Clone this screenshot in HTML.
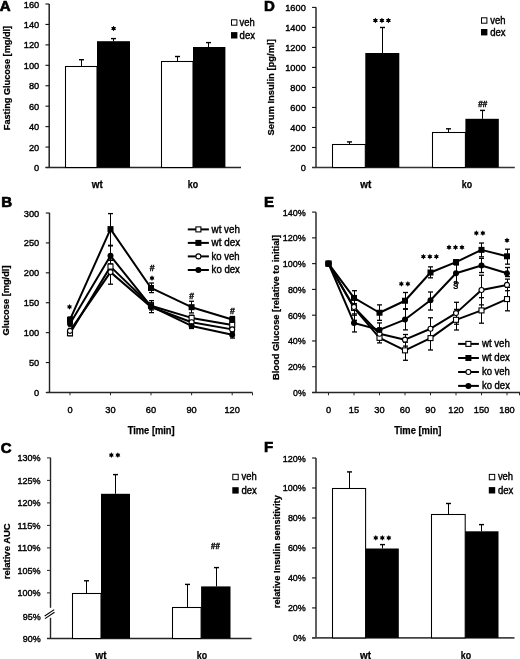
<!DOCTYPE html>
<html><head><meta charset="utf-8"><style>
html,body{margin:0;padding:0;background:#fff;}
svg{display:block;will-change:transform;}
text{font-family:"Liberation Sans", sans-serif;fill:#000;}
</style></head><body>
<svg width="520" height="659" viewBox="0 0 520 659" shape-rendering="auto">
<rect x="0" y="0" width="520" height="659" fill="#fff"/>
<text x="-0.20" y="11.10" font-size="15" text-anchor="start" font-weight="bold" stroke="#000" stroke-width="0.7">A</text>
<line x1="49.20" y1="4.00" x2="49.20" y2="167.50" stroke="#222" stroke-width="1.5" />
<line x1="45.45" y1="167.50" x2="49.20" y2="167.50" stroke="#111" stroke-width="1.1" />
<text x="39.20" y="171.00" font-size="9.6" text-anchor="end" font-weight="normal" textLength="5.15" lengthAdjust="spacingAndGlyphs" stroke="#000" stroke-width="0.4">0</text>
<line x1="45.45" y1="147.06" x2="49.20" y2="147.06" stroke="#111" stroke-width="1.1" />
<text x="39.20" y="150.56" font-size="9.6" text-anchor="end" font-weight="normal" textLength="10.30" lengthAdjust="spacingAndGlyphs" stroke="#000" stroke-width="0.4">20</text>
<line x1="45.45" y1="126.62" x2="49.20" y2="126.62" stroke="#111" stroke-width="1.1" />
<text x="39.20" y="130.12" font-size="9.6" text-anchor="end" font-weight="normal" textLength="10.30" lengthAdjust="spacingAndGlyphs" stroke="#000" stroke-width="0.4">40</text>
<line x1="45.45" y1="106.19" x2="49.20" y2="106.19" stroke="#111" stroke-width="1.1" />
<text x="39.20" y="109.69" font-size="9.6" text-anchor="end" font-weight="normal" textLength="10.30" lengthAdjust="spacingAndGlyphs" stroke="#000" stroke-width="0.4">60</text>
<line x1="45.45" y1="85.75" x2="49.20" y2="85.75" stroke="#111" stroke-width="1.1" />
<text x="39.20" y="89.25" font-size="9.6" text-anchor="end" font-weight="normal" textLength="10.30" lengthAdjust="spacingAndGlyphs" stroke="#000" stroke-width="0.4">80</text>
<line x1="45.45" y1="65.31" x2="49.20" y2="65.31" stroke="#111" stroke-width="1.1" />
<text x="39.20" y="68.81" font-size="9.6" text-anchor="end" font-weight="normal" textLength="15.45" lengthAdjust="spacingAndGlyphs" stroke="#000" stroke-width="0.4">100</text>
<line x1="45.45" y1="44.87" x2="49.20" y2="44.87" stroke="#111" stroke-width="1.1" />
<text x="39.20" y="48.37" font-size="9.6" text-anchor="end" font-weight="normal" textLength="15.45" lengthAdjust="spacingAndGlyphs" stroke="#000" stroke-width="0.4">120</text>
<line x1="45.45" y1="24.44" x2="49.20" y2="24.44" stroke="#111" stroke-width="1.1" />
<text x="39.20" y="27.94" font-size="9.6" text-anchor="end" font-weight="normal" textLength="15.45" lengthAdjust="spacingAndGlyphs" stroke="#000" stroke-width="0.4">140</text>
<line x1="45.45" y1="4.00" x2="49.20" y2="4.00" stroke="#111" stroke-width="1.1" />
<text x="39.20" y="7.50" font-size="9.6" text-anchor="end" font-weight="normal" textLength="15.45" lengthAdjust="spacingAndGlyphs" stroke="#000" stroke-width="0.4">160</text>
<line x1="45.60" y1="167.50" x2="241.00" y2="167.50" stroke="#262626" stroke-width="1.3" />
<rect x="65.50" y="66.50" width="31.50" height="101.00" fill="#fff" stroke="#000" stroke-width="1.05"/>
<rect x="97.00" y="41.20" width="33.00" height="126.30" fill="#000" stroke="none" stroke-width="1"/>
<rect x="161.50" y="61.50" width="31.50" height="106.00" fill="#fff" stroke="#000" stroke-width="1.05"/>
<rect x="193.00" y="47.00" width="32.40" height="120.50" fill="#000" stroke="none" stroke-width="1"/>
<line x1="81.50" y1="66.20" x2="81.50" y2="59.70" stroke="#000" stroke-width="1" />
<line x1="79.00" y1="59.70" x2="84.00" y2="59.70" stroke="#000" stroke-width="1.4" />
<line x1="113.50" y1="41.20" x2="113.50" y2="38.60" stroke="#000" stroke-width="1" />
<line x1="111.00" y1="38.60" x2="116.00" y2="38.60" stroke="#000" stroke-width="1.4" />
<line x1="177.50" y1="61.00" x2="177.50" y2="56.50" stroke="#000" stroke-width="1" />
<line x1="175.00" y1="56.50" x2="180.00" y2="56.50" stroke="#000" stroke-width="1.4" />
<line x1="208.50" y1="47.00" x2="208.50" y2="42.60" stroke="#000" stroke-width="1" />
<line x1="206.00" y1="42.60" x2="211.00" y2="42.60" stroke="#000" stroke-width="1.4" />
<polygon points="113.60,25.65 112.80,27.11 111.13,27.07 112.00,28.50 111.13,29.93 112.80,29.89 113.60,31.35 114.40,29.89 116.07,29.93 115.20,28.50 116.07,27.07 114.40,27.11" fill="#000"/>
<text x="97.30" y="188.00" font-size="10" text-anchor="middle" font-weight="bold" textLength="11.00" lengthAdjust="spacingAndGlyphs" stroke="#000" stroke-width="0.25">wt</text>
<text x="193.00" y="188.00" font-size="10" text-anchor="middle" font-weight="bold" textLength="10.30" lengthAdjust="spacingAndGlyphs" stroke="#000" stroke-width="0.25">ko</text>
<rect x="231.50" y="19.80" width="5.40" height="5.40" fill="#fff" stroke="#000" stroke-width="1"/>
<text x="239.60" y="25.60" font-size="10" text-anchor="start" font-weight="normal" textLength="15.20" lengthAdjust="spacingAndGlyphs" stroke="#000" stroke-width="0.4">veh</text>
<rect x="231.00" y="32.10" width="6.40" height="6.40" fill="#000" stroke="none" stroke-width="1"/>
<text x="239.60" y="38.70" font-size="10" text-anchor="start" font-weight="normal" textLength="15.40" lengthAdjust="spacingAndGlyphs" stroke="#000" stroke-width="0.4">dex</text>
<text transform="translate(9.50,78.05) rotate(-90)" x="0" y="0" font-size="9.3" text-anchor="middle" font-weight="bold" textLength="104.30" lengthAdjust="spacingAndGlyphs" stroke="#000" stroke-width="0.25">Fasting Glucose [mg/dl]</text>
<text x="264.00" y="11.40" font-size="15" text-anchor="start" font-weight="bold" stroke="#000" stroke-width="0.7">D</text>
<line x1="316.00" y1="7.20" x2="316.00" y2="167.50" stroke="#5a5a5a" stroke-width="1.9" />
<line x1="312.05" y1="167.50" x2="316.00" y2="167.50" stroke="#111" stroke-width="1.1" />
<text x="305.80" y="171.00" font-size="9.6" text-anchor="end" font-weight="normal" textLength="5.15" lengthAdjust="spacingAndGlyphs" stroke="#000" stroke-width="0.4">0</text>
<line x1="312.05" y1="147.49" x2="316.00" y2="147.49" stroke="#111" stroke-width="1.1" />
<text x="305.80" y="150.99" font-size="9.6" text-anchor="end" font-weight="normal" textLength="15.45" lengthAdjust="spacingAndGlyphs" stroke="#000" stroke-width="0.4">200</text>
<line x1="312.05" y1="127.47" x2="316.00" y2="127.47" stroke="#111" stroke-width="1.1" />
<text x="305.80" y="130.97" font-size="9.6" text-anchor="end" font-weight="normal" textLength="15.45" lengthAdjust="spacingAndGlyphs" stroke="#000" stroke-width="0.4">400</text>
<line x1="312.05" y1="107.46" x2="316.00" y2="107.46" stroke="#111" stroke-width="1.1" />
<text x="305.80" y="110.96" font-size="9.6" text-anchor="end" font-weight="normal" textLength="15.45" lengthAdjust="spacingAndGlyphs" stroke="#000" stroke-width="0.4">600</text>
<line x1="312.05" y1="87.45" x2="316.00" y2="87.45" stroke="#111" stroke-width="1.1" />
<text x="305.80" y="90.95" font-size="9.6" text-anchor="end" font-weight="normal" textLength="15.45" lengthAdjust="spacingAndGlyphs" stroke="#000" stroke-width="0.4">800</text>
<line x1="312.05" y1="67.44" x2="316.00" y2="67.44" stroke="#111" stroke-width="1.1" />
<text x="305.80" y="70.94" font-size="9.6" text-anchor="end" font-weight="normal" textLength="20.60" lengthAdjust="spacingAndGlyphs" stroke="#000" stroke-width="0.4">1000</text>
<line x1="312.05" y1="47.42" x2="316.00" y2="47.42" stroke="#111" stroke-width="1.1" />
<text x="305.80" y="50.92" font-size="9.6" text-anchor="end" font-weight="normal" textLength="20.60" lengthAdjust="spacingAndGlyphs" stroke="#000" stroke-width="0.4">1200</text>
<line x1="312.05" y1="27.41" x2="316.00" y2="27.41" stroke="#111" stroke-width="1.1" />
<text x="305.80" y="30.91" font-size="9.6" text-anchor="end" font-weight="normal" textLength="20.60" lengthAdjust="spacingAndGlyphs" stroke="#000" stroke-width="0.4">1400</text>
<line x1="312.05" y1="7.40" x2="316.00" y2="7.40" stroke="#111" stroke-width="1.1" />
<text x="305.80" y="10.90" font-size="9.6" text-anchor="end" font-weight="normal" textLength="20.60" lengthAdjust="spacingAndGlyphs" stroke="#000" stroke-width="0.4">1600</text>
<line x1="312.30" y1="167.50" x2="514.80" y2="167.50" stroke="#333" stroke-width="1.3" />
<rect x="332.50" y="144.50" width="32.80" height="23.00" fill="#fff" stroke="#000" stroke-width="1.05"/>
<rect x="365.30" y="53.00" width="34.00" height="114.50" fill="#000" stroke="none" stroke-width="1"/>
<rect x="432.50" y="132.50" width="32.90" height="35.00" fill="#fff" stroke="#000" stroke-width="1.05"/>
<rect x="465.40" y="118.80" width="33.40" height="48.70" fill="#000" stroke="none" stroke-width="1"/>
<line x1="349.50" y1="144.30" x2="349.50" y2="141.90" stroke="#000" stroke-width="1" />
<line x1="347.00" y1="141.90" x2="352.00" y2="141.90" stroke="#000" stroke-width="1.4" />
<line x1="382.50" y1="53.00" x2="382.50" y2="27.50" stroke="#000" stroke-width="1" />
<line x1="380.00" y1="27.50" x2="385.00" y2="27.50" stroke="#000" stroke-width="1.4" />
<line x1="448.50" y1="132.70" x2="448.50" y2="128.80" stroke="#000" stroke-width="1" />
<line x1="446.00" y1="128.80" x2="451.00" y2="128.80" stroke="#000" stroke-width="1.4" />
<line x1="482.50" y1="118.80" x2="482.50" y2="110.40" stroke="#000" stroke-width="1" />
<line x1="480.00" y1="110.40" x2="485.00" y2="110.40" stroke="#000" stroke-width="1.4" />
<polygon points="375.40,17.65 374.60,19.11 372.93,19.07 373.80,20.50 372.93,21.93 374.60,21.89 375.40,23.35 376.20,21.89 377.87,21.93 377.00,20.50 377.87,19.07 376.20,19.11" fill="#000"/>
<polygon points="381.90,17.65 381.10,19.11 379.43,19.07 380.30,20.50 379.43,21.93 381.10,21.89 381.90,23.35 382.70,21.89 384.37,21.93 383.50,20.50 384.37,19.07 382.70,19.11" fill="#000"/>
<polygon points="388.40,17.65 387.60,19.11 385.93,19.07 386.80,20.50 385.93,21.93 387.60,21.89 388.40,23.35 389.20,21.89 390.87,21.93 390.00,20.50 390.87,19.07 389.20,19.11" fill="#000"/>
<text x="482.80" y="107.10" font-size="9" text-anchor="middle" font-weight="bold" textLength="9.00" lengthAdjust="spacingAndGlyphs" stroke="#000" stroke-width="0.4">##</text>
<text x="365.80" y="188.00" font-size="10" text-anchor="middle" font-weight="bold" textLength="11.00" lengthAdjust="spacingAndGlyphs" stroke="#000" stroke-width="0.25">wt</text>
<text x="466.90" y="188.00" font-size="10" text-anchor="middle" font-weight="bold" textLength="10.30" lengthAdjust="spacingAndGlyphs" stroke="#000" stroke-width="0.25">ko</text>
<rect x="481.50" y="17.80" width="5.40" height="5.40" fill="#fff" stroke="#000" stroke-width="1"/>
<text x="490.20" y="23.60" font-size="10" text-anchor="start" font-weight="normal" textLength="15.20" lengthAdjust="spacingAndGlyphs" stroke="#000" stroke-width="0.4">veh</text>
<rect x="481.00" y="29.00" width="6.40" height="6.40" fill="#000" stroke="none" stroke-width="1"/>
<text x="490.20" y="35.60" font-size="10" text-anchor="start" font-weight="normal" textLength="15.40" lengthAdjust="spacingAndGlyphs" stroke="#000" stroke-width="0.4">dex</text>
<text transform="translate(273.60,87.35) rotate(-90)" x="0" y="0" font-size="9.3" text-anchor="middle" font-weight="bold" textLength="96.30" lengthAdjust="spacingAndGlyphs" stroke="#000" stroke-width="0.25">Serum Insulin [pg/ml]</text>
<text x="0.80" y="453.10" font-size="15" text-anchor="start" font-weight="bold" stroke="#000" stroke-width="0.7">C</text>
<line x1="50.50" y1="457.70" x2="50.50" y2="607.80" stroke="#262626" stroke-width="1.4" />
<line x1="50.50" y1="617.80" x2="50.50" y2="638.50" stroke="#262626" stroke-width="1.4" />
<line x1="47.00" y1="457.90" x2="50.50" y2="457.90" stroke="#262626" stroke-width="1" />
<text x="40.60" y="461.40" font-size="9.6" text-anchor="end" font-weight="normal" textLength="23.10" lengthAdjust="spacingAndGlyphs" stroke="#000" stroke-width="0.4">130%</text>
<line x1="47.00" y1="480.40" x2="50.50" y2="480.40" stroke="#262626" stroke-width="1" />
<text x="40.60" y="483.90" font-size="9.6" text-anchor="end" font-weight="normal" textLength="23.10" lengthAdjust="spacingAndGlyphs" stroke="#000" stroke-width="0.4">125%</text>
<line x1="47.00" y1="502.90" x2="50.50" y2="502.90" stroke="#262626" stroke-width="1" />
<text x="40.60" y="506.40" font-size="9.6" text-anchor="end" font-weight="normal" textLength="23.10" lengthAdjust="spacingAndGlyphs" stroke="#000" stroke-width="0.4">120%</text>
<line x1="47.00" y1="525.40" x2="50.50" y2="525.40" stroke="#262626" stroke-width="1" />
<text x="40.60" y="528.90" font-size="9.6" text-anchor="end" font-weight="normal" textLength="23.10" lengthAdjust="spacingAndGlyphs" stroke="#000" stroke-width="0.4">115%</text>
<line x1="47.00" y1="547.90" x2="50.50" y2="547.90" stroke="#262626" stroke-width="1" />
<text x="40.60" y="551.40" font-size="9.6" text-anchor="end" font-weight="normal" textLength="23.10" lengthAdjust="spacingAndGlyphs" stroke="#000" stroke-width="0.4">110%</text>
<line x1="47.00" y1="570.40" x2="50.50" y2="570.40" stroke="#262626" stroke-width="1" />
<text x="40.60" y="573.90" font-size="9.6" text-anchor="end" font-weight="normal" textLength="23.10" lengthAdjust="spacingAndGlyphs" stroke="#000" stroke-width="0.4">105%</text>
<line x1="47.00" y1="592.90" x2="50.50" y2="592.90" stroke="#262626" stroke-width="1" />
<text x="40.60" y="596.40" font-size="9.6" text-anchor="end" font-weight="normal" textLength="23.10" lengthAdjust="spacingAndGlyphs" stroke="#000" stroke-width="0.4">100%</text>
<text x="40.60" y="619.50" font-size="9.6" text-anchor="end" font-weight="normal" textLength="17.90" lengthAdjust="spacingAndGlyphs" stroke="#000" stroke-width="0.4">95%</text>
<text x="40.60" y="642.00" font-size="9.6" text-anchor="end" font-weight="normal" textLength="17.90" lengthAdjust="spacingAndGlyphs" stroke="#000" stroke-width="0.4">90%</text>
<line x1="44.70" y1="616.00" x2="54.20" y2="609.60" stroke="#000" stroke-width="1.1" />
<line x1="45.00" y1="618.60" x2="54.50" y2="612.20" stroke="#000" stroke-width="1.1" />
<line x1="47.00" y1="638.50" x2="251.60" y2="638.50" stroke="#262626" stroke-width="1.3" />
<rect x="72.50" y="593.50" width="28.50" height="45.00" fill="#fff" stroke="#000" stroke-width="1.05"/>
<rect x="101.00" y="493.80" width="29.00" height="144.70" fill="#000" stroke="none" stroke-width="1"/>
<rect x="172.50" y="607.50" width="28.60" height="31.00" fill="#fff" stroke="#000" stroke-width="1.05"/>
<rect x="201.10" y="586.40" width="29.40" height="52.10" fill="#000" stroke="none" stroke-width="1"/>
<line x1="86.50" y1="593.40" x2="86.50" y2="580.80" stroke="#000" stroke-width="1" />
<line x1="84.00" y1="580.80" x2="89.00" y2="580.80" stroke="#000" stroke-width="1.4" />
<line x1="115.50" y1="493.80" x2="115.50" y2="474.60" stroke="#000" stroke-width="1" />
<line x1="113.00" y1="474.60" x2="118.00" y2="474.60" stroke="#000" stroke-width="1.4" />
<line x1="187.50" y1="607.70" x2="187.50" y2="584.40" stroke="#000" stroke-width="1" />
<line x1="185.00" y1="584.40" x2="190.00" y2="584.40" stroke="#000" stroke-width="1.4" />
<line x1="216.50" y1="586.40" x2="216.50" y2="567.60" stroke="#000" stroke-width="1" />
<line x1="214.00" y1="567.60" x2="219.00" y2="567.60" stroke="#000" stroke-width="1.4" />
<polygon points="111.35,452.25 110.55,453.71 108.88,453.68 109.75,455.10 108.88,456.53 110.55,456.49 111.35,457.95 112.15,456.49 113.82,456.53 112.95,455.10 113.82,453.68 112.15,453.71" fill="#000"/>
<polygon points="117.85,452.25 117.05,453.71 115.38,453.68 116.25,455.10 115.38,456.53 117.05,456.49 117.85,457.95 118.65,456.49 120.32,456.53 119.45,455.10 120.32,453.68 118.65,453.71" fill="#000"/>
<text x="215.50" y="548.70" font-size="9" text-anchor="middle" font-weight="bold" textLength="8.80" lengthAdjust="spacingAndGlyphs" stroke="#000" stroke-width="0.4">##</text>
<text x="101.00" y="658.50" font-size="10" text-anchor="middle" font-weight="bold" textLength="11.00" lengthAdjust="spacingAndGlyphs" stroke="#000" stroke-width="0.25">wt</text>
<text x="202.00" y="658.50" font-size="10" text-anchor="middle" font-weight="bold" textLength="10.30" lengthAdjust="spacingAndGlyphs" stroke="#000" stroke-width="0.25">ko</text>
<rect x="232.80" y="474.30" width="5.40" height="5.40" fill="#fff" stroke="#000" stroke-width="1"/>
<text x="241.50" y="480.20" font-size="10" text-anchor="start" font-weight="normal" textLength="15.20" lengthAdjust="spacingAndGlyphs" stroke="#000" stroke-width="0.4">veh</text>
<rect x="232.30" y="487.20" width="6.40" height="6.40" fill="#000" stroke="none" stroke-width="1"/>
<text x="241.50" y="493.80" font-size="10" text-anchor="start" font-weight="normal" textLength="15.40" lengthAdjust="spacingAndGlyphs" stroke="#000" stroke-width="0.4">dex</text>
<text transform="translate(9.60,551.30) rotate(-90)" x="0" y="0" font-size="9.3" text-anchor="middle" font-weight="bold" textLength="55.90" lengthAdjust="spacingAndGlyphs" stroke="#000" stroke-width="0.25">relative AUC</text>
<text x="264.00" y="452.20" font-size="15" text-anchor="start" font-weight="bold" stroke="#000" stroke-width="0.7">F</text>
<line x1="316.00" y1="457.90" x2="316.00" y2="637.90" stroke="#5a5a5a" stroke-width="1.9" />
<line x1="312.05" y1="637.90" x2="316.00" y2="637.90" stroke="#111" stroke-width="1.1" />
<text x="305.80" y="641.40" font-size="9.6" text-anchor="end" font-weight="normal" textLength="12.75" lengthAdjust="spacingAndGlyphs" stroke="#000" stroke-width="0.4">0%</text>
<line x1="312.05" y1="607.92" x2="316.00" y2="607.92" stroke="#111" stroke-width="1.1" />
<text x="305.80" y="611.42" font-size="9.6" text-anchor="end" font-weight="normal" textLength="17.90" lengthAdjust="spacingAndGlyphs" stroke="#000" stroke-width="0.4">20%</text>
<line x1="312.05" y1="577.93" x2="316.00" y2="577.93" stroke="#111" stroke-width="1.1" />
<text x="305.80" y="581.43" font-size="9.6" text-anchor="end" font-weight="normal" textLength="17.90" lengthAdjust="spacingAndGlyphs" stroke="#000" stroke-width="0.4">40%</text>
<line x1="312.05" y1="547.95" x2="316.00" y2="547.95" stroke="#111" stroke-width="1.1" />
<text x="305.80" y="551.45" font-size="9.6" text-anchor="end" font-weight="normal" textLength="17.90" lengthAdjust="spacingAndGlyphs" stroke="#000" stroke-width="0.4">60%</text>
<line x1="312.05" y1="517.97" x2="316.00" y2="517.97" stroke="#111" stroke-width="1.1" />
<text x="305.80" y="521.47" font-size="9.6" text-anchor="end" font-weight="normal" textLength="17.90" lengthAdjust="spacingAndGlyphs" stroke="#000" stroke-width="0.4">80%</text>
<line x1="312.05" y1="487.98" x2="316.00" y2="487.98" stroke="#111" stroke-width="1.1" />
<text x="305.80" y="491.48" font-size="9.6" text-anchor="end" font-weight="normal" textLength="23.05" lengthAdjust="spacingAndGlyphs" stroke="#000" stroke-width="0.4">100%</text>
<line x1="312.05" y1="458.00" x2="316.00" y2="458.00" stroke="#111" stroke-width="1.1" />
<text x="305.80" y="461.50" font-size="9.6" text-anchor="end" font-weight="normal" textLength="23.05" lengthAdjust="spacingAndGlyphs" stroke="#000" stroke-width="0.4">120%</text>
<line x1="312.20" y1="637.90" x2="514.50" y2="637.90" stroke="#444" stroke-width="1.9" />
<rect x="332.50" y="488.50" width="33.10" height="149.40" fill="#fff" stroke="#000" stroke-width="1.05"/>
<rect x="365.60" y="548.50" width="33.20" height="89.40" fill="#000" stroke="none" stroke-width="1"/>
<rect x="431.50" y="514.50" width="33.70" height="123.40" fill="#fff" stroke="#000" stroke-width="1.05"/>
<rect x="465.20" y="531.30" width="33.30" height="106.60" fill="#000" stroke="none" stroke-width="1"/>
<line x1="349.50" y1="488.30" x2="349.50" y2="471.90" stroke="#000" stroke-width="1" />
<line x1="347.00" y1="471.90" x2="352.00" y2="471.90" stroke="#000" stroke-width="1.4" />
<line x1="382.50" y1="548.50" x2="382.50" y2="544.60" stroke="#000" stroke-width="1" />
<line x1="380.00" y1="544.60" x2="385.00" y2="544.60" stroke="#000" stroke-width="1.4" />
<line x1="448.50" y1="514.00" x2="448.50" y2="503.50" stroke="#000" stroke-width="1" />
<line x1="446.00" y1="503.50" x2="451.00" y2="503.50" stroke="#000" stroke-width="1.4" />
<line x1="481.50" y1="531.30" x2="481.50" y2="524.60" stroke="#000" stroke-width="1" />
<line x1="479.00" y1="524.60" x2="484.00" y2="524.60" stroke="#000" stroke-width="1.4" />
<polygon points="375.80,535.05 375.00,536.51 373.33,536.48 374.20,537.90 373.33,539.32 375.00,539.29 375.80,540.75 376.60,539.29 378.27,539.32 377.40,537.90 378.27,536.48 376.60,536.51" fill="#000"/>
<polygon points="382.30,535.05 381.50,536.51 379.83,536.48 380.70,537.90 379.83,539.32 381.50,539.29 382.30,540.75 383.10,539.29 384.77,539.32 383.90,537.90 384.77,536.48 383.10,536.51" fill="#000"/>
<polygon points="388.80,535.05 388.00,536.51 386.33,536.48 387.20,537.90 386.33,539.32 388.00,539.29 388.80,540.75 389.60,539.29 391.27,539.32 390.40,537.90 391.27,536.48 389.60,536.51" fill="#000"/>
<text x="365.50" y="658.50" font-size="10" text-anchor="middle" font-weight="bold" textLength="11.00" lengthAdjust="spacingAndGlyphs" stroke="#000" stroke-width="0.25">wt</text>
<text x="466.00" y="658.50" font-size="10" text-anchor="middle" font-weight="bold" textLength="10.30" lengthAdjust="spacingAndGlyphs" stroke="#000" stroke-width="0.25">ko</text>
<rect x="489.30" y="474.40" width="5.40" height="5.40" fill="#fff" stroke="#000" stroke-width="1"/>
<text x="497.90" y="480.00" font-size="10" text-anchor="start" font-weight="normal" textLength="15.20" lengthAdjust="spacingAndGlyphs" stroke="#000" stroke-width="0.4">veh</text>
<rect x="488.80" y="487.10" width="6.40" height="6.40" fill="#000" stroke="none" stroke-width="1"/>
<text x="497.90" y="493.70" font-size="10" text-anchor="start" font-weight="normal" textLength="15.40" lengthAdjust="spacingAndGlyphs" stroke="#000" stroke-width="0.4">dex</text>
<text transform="translate(280.30,551.70) rotate(-90)" x="0" y="0" font-size="9.3" text-anchor="middle" font-weight="bold" textLength="113.00" lengthAdjust="spacingAndGlyphs" stroke="#000" stroke-width="0.25">relative Insulin sensitivity</text>
<text x="1.30" y="207.30" font-size="15" text-anchor="start" font-weight="bold" stroke="#000" stroke-width="0.7">B</text>
<line x1="49.50" y1="212.80" x2="49.50" y2="392.50" stroke="#222" stroke-width="1.4" />
<line x1="45.80" y1="392.50" x2="49.50" y2="392.50" stroke="#111" stroke-width="1.1" />
<text x="39.20" y="396.00" font-size="9.6" text-anchor="end" font-weight="normal" textLength="5.15" lengthAdjust="spacingAndGlyphs" stroke="#000" stroke-width="0.4">0</text>
<line x1="45.80" y1="362.58" x2="49.50" y2="362.58" stroke="#111" stroke-width="1.1" />
<text x="39.20" y="366.08" font-size="9.6" text-anchor="end" font-weight="normal" textLength="10.30" lengthAdjust="spacingAndGlyphs" stroke="#000" stroke-width="0.4">50</text>
<line x1="45.80" y1="332.67" x2="49.50" y2="332.67" stroke="#111" stroke-width="1.1" />
<text x="39.20" y="336.17" font-size="9.6" text-anchor="end" font-weight="normal" textLength="15.45" lengthAdjust="spacingAndGlyphs" stroke="#000" stroke-width="0.4">100</text>
<line x1="45.80" y1="302.75" x2="49.50" y2="302.75" stroke="#111" stroke-width="1.1" />
<text x="39.20" y="306.25" font-size="9.6" text-anchor="end" font-weight="normal" textLength="15.45" lengthAdjust="spacingAndGlyphs" stroke="#000" stroke-width="0.4">150</text>
<line x1="45.80" y1="272.83" x2="49.50" y2="272.83" stroke="#111" stroke-width="1.1" />
<text x="39.20" y="276.33" font-size="9.6" text-anchor="end" font-weight="normal" textLength="15.45" lengthAdjust="spacingAndGlyphs" stroke="#000" stroke-width="0.4">200</text>
<line x1="45.80" y1="242.92" x2="49.50" y2="242.92" stroke="#111" stroke-width="1.1" />
<text x="39.20" y="246.42" font-size="9.6" text-anchor="end" font-weight="normal" textLength="15.45" lengthAdjust="spacingAndGlyphs" stroke="#000" stroke-width="0.4">250</text>
<line x1="45.80" y1="213.00" x2="49.50" y2="213.00" stroke="#111" stroke-width="1.1" />
<text x="39.20" y="216.50" font-size="9.6" text-anchor="end" font-weight="normal" textLength="15.45" lengthAdjust="spacingAndGlyphs" stroke="#000" stroke-width="0.4">300</text>
<line x1="46.50" y1="392.50" x2="252.50" y2="392.50" stroke="#262626" stroke-width="1.3" />
<line x1="70.00" y1="392.50" x2="70.00" y2="395.30" stroke="#262626" stroke-width="1" />
<line x1="110.50" y1="392.50" x2="110.50" y2="395.30" stroke="#262626" stroke-width="1" />
<line x1="151.00" y1="392.50" x2="151.00" y2="395.30" stroke="#262626" stroke-width="1" />
<line x1="191.60" y1="392.50" x2="191.60" y2="395.30" stroke="#262626" stroke-width="1" />
<line x1="232.20" y1="392.50" x2="232.20" y2="395.30" stroke="#262626" stroke-width="1" />
<line x1="252.50" y1="392.50" x2="252.50" y2="395.30" stroke="#262626" stroke-width="1" />
<text x="70.00" y="412.60" font-size="9.6" text-anchor="middle" font-weight="normal" textLength="5.15" lengthAdjust="spacingAndGlyphs" stroke="#000" stroke-width="0.4">0</text>
<text x="110.50" y="412.60" font-size="9.6" text-anchor="middle" font-weight="normal" textLength="10.30" lengthAdjust="spacingAndGlyphs" stroke="#000" stroke-width="0.4">30</text>
<text x="151.00" y="412.60" font-size="9.6" text-anchor="middle" font-weight="normal" textLength="10.30" lengthAdjust="spacingAndGlyphs" stroke="#000" stroke-width="0.4">60</text>
<text x="191.60" y="412.60" font-size="9.6" text-anchor="middle" font-weight="normal" textLength="10.30" lengthAdjust="spacingAndGlyphs" stroke="#000" stroke-width="0.4">90</text>
<text x="232.20" y="412.60" font-size="9.6" text-anchor="middle" font-weight="normal" textLength="15.45" lengthAdjust="spacingAndGlyphs" stroke="#000" stroke-width="0.4">120</text>
<text x="151.20" y="434.00" font-size="10" text-anchor="middle" font-weight="bold" textLength="47.00" lengthAdjust="spacingAndGlyphs" stroke="#000" stroke-width="0.25">Time [min]</text>
<line x1="70.50" y1="330.87" x2="70.50" y2="335.66" stroke="#000" stroke-width="1" />
<line x1="68.00" y1="330.87" x2="73.00" y2="330.87" stroke="#000" stroke-width="1.3" />
<line x1="68.00" y1="335.66" x2="73.00" y2="335.66" stroke="#000" stroke-width="1.3" />
<line x1="110.50" y1="260.27" x2="110.50" y2="272.83" stroke="#000" stroke-width="1" />
<line x1="108.00" y1="260.27" x2="113.00" y2="260.27" stroke="#000" stroke-width="1.3" />
<line x1="108.00" y1="272.83" x2="113.00" y2="272.83" stroke="#000" stroke-width="1.3" />
<line x1="151.50" y1="302.75" x2="151.50" y2="308.73" stroke="#000" stroke-width="1" />
<line x1="149.00" y1="302.75" x2="154.00" y2="302.75" stroke="#000" stroke-width="1.3" />
<line x1="149.00" y1="308.73" x2="154.00" y2="308.73" stroke="#000" stroke-width="1.3" />
<line x1="191.50" y1="315.31" x2="191.50" y2="320.70" stroke="#000" stroke-width="1" />
<line x1="189.00" y1="315.31" x2="194.00" y2="315.31" stroke="#000" stroke-width="1.3" />
<line x1="189.00" y1="320.70" x2="194.00" y2="320.70" stroke="#000" stroke-width="1.3" />
<line x1="232.50" y1="322.50" x2="232.50" y2="327.28" stroke="#000" stroke-width="1" />
<line x1="230.00" y1="322.50" x2="235.00" y2="322.50" stroke="#000" stroke-width="1.3" />
<line x1="230.00" y1="327.28" x2="235.00" y2="327.28" stroke="#000" stroke-width="1.3" />
<line x1="70.50" y1="317.11" x2="70.50" y2="322.50" stroke="#000" stroke-width="1" />
<line x1="68.00" y1="317.11" x2="73.00" y2="317.11" stroke="#000" stroke-width="1.3" />
<line x1="68.00" y1="322.50" x2="73.00" y2="322.50" stroke="#000" stroke-width="1.3" />
<line x1="110.50" y1="213.60" x2="110.50" y2="245.31" stroke="#000" stroke-width="1" />
<line x1="108.00" y1="213.60" x2="113.00" y2="213.60" stroke="#000" stroke-width="1.3" />
<line x1="108.00" y1="245.31" x2="113.00" y2="245.31" stroke="#000" stroke-width="1.3" />
<line x1="151.50" y1="283.00" x2="151.50" y2="292.58" stroke="#000" stroke-width="1" />
<line x1="149.00" y1="283.00" x2="154.00" y2="283.00" stroke="#000" stroke-width="1.3" />
<line x1="149.00" y1="292.58" x2="154.00" y2="292.58" stroke="#000" stroke-width="1.3" />
<line x1="191.50" y1="301.25" x2="191.50" y2="312.92" stroke="#000" stroke-width="1" />
<line x1="189.00" y1="301.25" x2="194.00" y2="301.25" stroke="#000" stroke-width="1.3" />
<line x1="189.00" y1="312.92" x2="194.00" y2="312.92" stroke="#000" stroke-width="1.3" />
<line x1="232.50" y1="316.51" x2="232.50" y2="322.50" stroke="#000" stroke-width="1" />
<line x1="230.00" y1="316.51" x2="235.00" y2="316.51" stroke="#000" stroke-width="1.3" />
<line x1="230.00" y1="322.50" x2="235.00" y2="322.50" stroke="#000" stroke-width="1.3" />
<line x1="70.50" y1="328.48" x2="70.50" y2="333.26" stroke="#000" stroke-width="1" />
<line x1="68.00" y1="328.48" x2="73.00" y2="328.48" stroke="#000" stroke-width="1.3" />
<line x1="68.00" y1="333.26" x2="73.00" y2="333.26" stroke="#000" stroke-width="1.3" />
<line x1="110.50" y1="260.27" x2="110.50" y2="284.20" stroke="#000" stroke-width="1" />
<line x1="108.00" y1="260.27" x2="113.00" y2="260.27" stroke="#000" stroke-width="1.3" />
<line x1="108.00" y1="284.20" x2="113.00" y2="284.20" stroke="#000" stroke-width="1.3" />
<line x1="151.50" y1="303.95" x2="151.50" y2="309.93" stroke="#000" stroke-width="1" />
<line x1="149.00" y1="303.95" x2="154.00" y2="303.95" stroke="#000" stroke-width="1.3" />
<line x1="149.00" y1="309.93" x2="154.00" y2="309.93" stroke="#000" stroke-width="1.3" />
<line x1="191.50" y1="319.50" x2="191.50" y2="324.89" stroke="#000" stroke-width="1" />
<line x1="189.00" y1="319.50" x2="194.00" y2="319.50" stroke="#000" stroke-width="1.3" />
<line x1="189.00" y1="324.89" x2="194.00" y2="324.89" stroke="#000" stroke-width="1.3" />
<line x1="232.50" y1="326.68" x2="232.50" y2="332.07" stroke="#000" stroke-width="1" />
<line x1="230.00" y1="326.68" x2="235.00" y2="326.68" stroke="#000" stroke-width="1.3" />
<line x1="230.00" y1="332.07" x2="235.00" y2="332.07" stroke="#000" stroke-width="1.3" />
<line x1="70.50" y1="321.30" x2="70.50" y2="326.08" stroke="#000" stroke-width="1" />
<line x1="68.00" y1="321.30" x2="73.00" y2="321.30" stroke="#000" stroke-width="1.3" />
<line x1="68.00" y1="326.08" x2="73.00" y2="326.08" stroke="#000" stroke-width="1.3" />
<line x1="110.50" y1="245.91" x2="110.50" y2="263.86" stroke="#000" stroke-width="1" />
<line x1="108.00" y1="245.91" x2="113.00" y2="245.91" stroke="#000" stroke-width="1.3" />
<line x1="108.00" y1="263.86" x2="113.00" y2="263.86" stroke="#000" stroke-width="1.3" />
<line x1="151.50" y1="300.66" x2="151.50" y2="312.62" stroke="#000" stroke-width="1" />
<line x1="149.00" y1="300.66" x2="154.00" y2="300.66" stroke="#000" stroke-width="1.3" />
<line x1="149.00" y1="312.62" x2="154.00" y2="312.62" stroke="#000" stroke-width="1.3" />
<line x1="191.50" y1="323.09" x2="191.50" y2="328.48" stroke="#000" stroke-width="1" />
<line x1="189.00" y1="323.09" x2="194.00" y2="323.09" stroke="#000" stroke-width="1.3" />
<line x1="189.00" y1="328.48" x2="194.00" y2="328.48" stroke="#000" stroke-width="1.3" />
<line x1="232.50" y1="331.47" x2="232.50" y2="338.05" stroke="#000" stroke-width="1" />
<line x1="230.00" y1="331.47" x2="235.00" y2="331.47" stroke="#000" stroke-width="1.3" />
<line x1="230.00" y1="338.05" x2="235.00" y2="338.05" stroke="#000" stroke-width="1.3" />
<polyline points="70.00,333.26 110.50,266.61 151.00,305.74 191.60,317.89 232.20,324.89" fill="none" stroke="#000" stroke-width="2.0" stroke-linejoin="round"/>
<polyline points="70.00,330.87 110.50,272.12 151.00,306.94 191.60,322.20 232.20,329.38" fill="none" stroke="#000" stroke-width="2.0" stroke-linejoin="round"/>
<polyline points="70.00,323.69 110.50,255.78 151.00,306.34 191.60,325.91 232.20,334.70" fill="none" stroke="#000" stroke-width="2.0" stroke-linejoin="round"/>
<polyline points="70.00,319.68 110.50,229.10 151.00,287.97 191.60,307.18 232.20,319.50" fill="none" stroke="#000" stroke-width="2.0" stroke-linejoin="round"/>
<rect x="67.50" y="330.76" width="5.00" height="5.00" fill="#fff" stroke="#000" stroke-width="1.1"/>
<rect x="108.00" y="264.11" width="5.00" height="5.00" fill="#fff" stroke="#000" stroke-width="1.1"/>
<rect x="148.50" y="303.24" width="5.00" height="5.00" fill="#fff" stroke="#000" stroke-width="1.1"/>
<rect x="189.10" y="315.39" width="5.00" height="5.00" fill="#fff" stroke="#000" stroke-width="1.1"/>
<rect x="229.70" y="322.39" width="5.00" height="5.00" fill="#fff" stroke="#000" stroke-width="1.1"/>
<circle cx="70.00" cy="330.87" r="2.50" fill="#fff" stroke="#000" stroke-width="1.1"/>
<circle cx="110.50" cy="272.12" r="2.50" fill="#fff" stroke="#000" stroke-width="1.1"/>
<circle cx="151.00" cy="306.94" r="2.50" fill="#fff" stroke="#000" stroke-width="1.1"/>
<circle cx="191.60" cy="322.20" r="2.50" fill="#fff" stroke="#000" stroke-width="1.1"/>
<circle cx="232.20" cy="329.38" r="2.50" fill="#fff" stroke="#000" stroke-width="1.1"/>
<circle cx="70.00" cy="323.69" r="3.00" fill="#000"/>
<circle cx="110.50" cy="255.78" r="3.00" fill="#000"/>
<circle cx="151.00" cy="306.34" r="3.00" fill="#000"/>
<circle cx="191.60" cy="325.91" r="3.00" fill="#000"/>
<circle cx="232.20" cy="334.70" r="3.00" fill="#000"/>
<rect x="67.00" y="316.68" width="6.00" height="6.00" fill="#000"/>
<rect x="107.50" y="226.10" width="6.00" height="6.00" fill="#000"/>
<rect x="148.00" y="284.97" width="6.00" height="6.00" fill="#000"/>
<rect x="188.60" y="304.18" width="6.00" height="6.00" fill="#000"/>
<rect x="229.20" y="316.50" width="6.00" height="6.00" fill="#000"/>
<polygon points="69.50,304.05 68.70,305.51 67.03,305.47 67.90,306.90 67.03,308.32 68.70,308.29 69.50,309.75 70.30,308.29 71.97,308.32 71.10,306.90 71.97,305.47 70.30,305.51" fill="#000"/>
<text x="152.10" y="271.40" font-size="9" text-anchor="middle" font-weight="bold" textLength="4.80" lengthAdjust="spacingAndGlyphs" stroke="#000" stroke-width="0.4">#</text>
<polygon points="152.00,275.25 151.20,276.71 149.53,276.68 150.40,278.10 149.53,279.53 151.20,279.49 152.00,280.95 152.80,279.49 154.47,279.53 153.60,278.10 154.47,276.68 152.80,276.71" fill="#000"/>
<text x="191.70" y="298.90" font-size="9" text-anchor="middle" font-weight="bold" textLength="4.80" lengthAdjust="spacingAndGlyphs" stroke="#000" stroke-width="0.4">#</text>
<text x="232.50" y="313.70" font-size="9" text-anchor="middle" font-weight="bold" textLength="4.80" lengthAdjust="spacingAndGlyphs" stroke="#000" stroke-width="0.4">#</text>
<line x1="187.80" y1="229.40" x2="208.90" y2="229.40" stroke="#000" stroke-width="2" />
<rect x="195.90" y="226.90" width="5.00" height="5.00" fill="#fff" stroke="#000" stroke-width="1.1"/>
<text x="211.60" y="232.70" font-size="10" text-anchor="start" font-weight="normal" textLength="28.30" lengthAdjust="spacingAndGlyphs" stroke="#000" stroke-width="0.4">wt veh</text>
<line x1="187.80" y1="242.90" x2="208.90" y2="242.90" stroke="#000" stroke-width="2" />
<rect x="195.40" y="239.90" width="6.00" height="6.00" fill="#000"/>
<text x="211.60" y="246.20" font-size="10" text-anchor="start" font-weight="normal" textLength="28.50" lengthAdjust="spacingAndGlyphs" stroke="#000" stroke-width="0.4">wt dex</text>
<line x1="187.80" y1="256.40" x2="208.90" y2="256.40" stroke="#000" stroke-width="2" />
<circle cx="198.40" cy="256.40" r="2.50" fill="#fff" stroke="#000" stroke-width="1.1"/>
<text x="211.60" y="259.70" font-size="10" text-anchor="start" font-weight="normal" textLength="28.00" lengthAdjust="spacingAndGlyphs" stroke="#000" stroke-width="0.4">ko veh</text>
<line x1="187.80" y1="270.00" x2="208.90" y2="270.00" stroke="#000" stroke-width="2" />
<circle cx="198.40" cy="270.00" r="3.00" fill="#000"/>
<text x="211.60" y="273.30" font-size="10" text-anchor="start" font-weight="normal" textLength="28.30" lengthAdjust="spacingAndGlyphs" stroke="#000" stroke-width="0.4">ko dex</text>
<text transform="translate(9.30,300.50) rotate(-90)" x="0" y="0" font-size="9.3" text-anchor="middle" font-weight="bold" textLength="70.00" lengthAdjust="spacingAndGlyphs" stroke="#000" stroke-width="0.25">Glucose [mg/dl]</text>
<text x="264.00" y="207.20" font-size="15" text-anchor="start" font-weight="bold" stroke="#000" stroke-width="0.7">E</text>
<line x1="316.00" y1="212.20" x2="316.00" y2="392.50" stroke="#5a5a5a" stroke-width="1.9" />
<line x1="312.05" y1="392.50" x2="316.00" y2="392.50" stroke="#111" stroke-width="1.1" />
<text x="305.80" y="396.00" font-size="9.6" text-anchor="end" font-weight="normal" textLength="12.75" lengthAdjust="spacingAndGlyphs" stroke="#000" stroke-width="0.4">0%</text>
<line x1="312.05" y1="366.73" x2="316.00" y2="366.73" stroke="#111" stroke-width="1.1" />
<text x="305.80" y="370.23" font-size="9.6" text-anchor="end" font-weight="normal" textLength="17.90" lengthAdjust="spacingAndGlyphs" stroke="#000" stroke-width="0.4">20%</text>
<line x1="312.05" y1="340.96" x2="316.00" y2="340.96" stroke="#111" stroke-width="1.1" />
<text x="305.80" y="344.46" font-size="9.6" text-anchor="end" font-weight="normal" textLength="17.90" lengthAdjust="spacingAndGlyphs" stroke="#000" stroke-width="0.4">40%</text>
<line x1="312.05" y1="315.19" x2="316.00" y2="315.19" stroke="#111" stroke-width="1.1" />
<text x="305.80" y="318.69" font-size="9.6" text-anchor="end" font-weight="normal" textLength="17.90" lengthAdjust="spacingAndGlyphs" stroke="#000" stroke-width="0.4">60%</text>
<line x1="312.05" y1="289.41" x2="316.00" y2="289.41" stroke="#111" stroke-width="1.1" />
<text x="305.80" y="292.91" font-size="9.6" text-anchor="end" font-weight="normal" textLength="17.90" lengthAdjust="spacingAndGlyphs" stroke="#000" stroke-width="0.4">80%</text>
<line x1="312.05" y1="263.64" x2="316.00" y2="263.64" stroke="#111" stroke-width="1.1" />
<text x="305.80" y="267.14" font-size="9.6" text-anchor="end" font-weight="normal" textLength="23.05" lengthAdjust="spacingAndGlyphs" stroke="#000" stroke-width="0.4">100%</text>
<line x1="312.05" y1="237.87" x2="316.00" y2="237.87" stroke="#111" stroke-width="1.1" />
<text x="305.80" y="241.37" font-size="9.6" text-anchor="end" font-weight="normal" textLength="23.05" lengthAdjust="spacingAndGlyphs" stroke="#000" stroke-width="0.4">120%</text>
<line x1="312.05" y1="212.10" x2="316.00" y2="212.10" stroke="#111" stroke-width="1.1" />
<text x="305.80" y="215.60" font-size="9.6" text-anchor="end" font-weight="normal" textLength="23.05" lengthAdjust="spacingAndGlyphs" stroke="#000" stroke-width="0.4">140%</text>
<line x1="312.20" y1="392.50" x2="520.00" y2="392.50" stroke="#262626" stroke-width="1.3" />
<line x1="328.50" y1="392.50" x2="328.50" y2="395.30" stroke="#262626" stroke-width="1" />
<line x1="354.00" y1="392.50" x2="354.00" y2="395.30" stroke="#262626" stroke-width="1" />
<line x1="379.50" y1="392.50" x2="379.50" y2="395.30" stroke="#262626" stroke-width="1" />
<line x1="405.00" y1="392.50" x2="405.00" y2="395.30" stroke="#262626" stroke-width="1" />
<line x1="430.50" y1="392.50" x2="430.50" y2="395.30" stroke="#262626" stroke-width="1" />
<line x1="456.00" y1="392.50" x2="456.00" y2="395.30" stroke="#262626" stroke-width="1" />
<line x1="481.50" y1="392.50" x2="481.50" y2="395.30" stroke="#262626" stroke-width="1" />
<line x1="507.00" y1="392.50" x2="507.00" y2="395.30" stroke="#262626" stroke-width="1" />
<line x1="519.50" y1="392.50" x2="519.50" y2="395.30" stroke="#262626" stroke-width="1" />
<text x="328.50" y="412.80" font-size="9.6" text-anchor="middle" font-weight="normal" textLength="5.15" lengthAdjust="spacingAndGlyphs" stroke="#000" stroke-width="0.4">0</text>
<text x="354.00" y="412.80" font-size="9.6" text-anchor="middle" font-weight="normal" textLength="10.30" lengthAdjust="spacingAndGlyphs" stroke="#000" stroke-width="0.4">15</text>
<text x="379.50" y="412.80" font-size="9.6" text-anchor="middle" font-weight="normal" textLength="10.30" lengthAdjust="spacingAndGlyphs" stroke="#000" stroke-width="0.4">30</text>
<text x="405.00" y="412.80" font-size="9.6" text-anchor="middle" font-weight="normal" textLength="10.30" lengthAdjust="spacingAndGlyphs" stroke="#000" stroke-width="0.4">60</text>
<text x="430.50" y="412.80" font-size="9.6" text-anchor="middle" font-weight="normal" textLength="10.30" lengthAdjust="spacingAndGlyphs" stroke="#000" stroke-width="0.4">90</text>
<text x="456.00" y="412.80" font-size="9.6" text-anchor="middle" font-weight="normal" textLength="15.45" lengthAdjust="spacingAndGlyphs" stroke="#000" stroke-width="0.4">120</text>
<text x="481.50" y="412.80" font-size="9.6" text-anchor="middle" font-weight="normal" textLength="15.45" lengthAdjust="spacingAndGlyphs" stroke="#000" stroke-width="0.4">150</text>
<text x="507.00" y="412.80" font-size="9.6" text-anchor="middle" font-weight="normal" textLength="15.45" lengthAdjust="spacingAndGlyphs" stroke="#000" stroke-width="0.4">180</text>
<text x="417.80" y="434.00" font-size="10" text-anchor="middle" font-weight="bold" textLength="47.30" lengthAdjust="spacingAndGlyphs" stroke="#000" stroke-width="0.25">Time [min]</text>
<line x1="354.50" y1="303.59" x2="354.50" y2="320.34" stroke="#000" stroke-width="1" />
<line x1="352.00" y1="303.59" x2="357.00" y2="303.59" stroke="#000" stroke-width="1.3" />
<line x1="352.00" y1="320.34" x2="357.00" y2="320.34" stroke="#000" stroke-width="1.3" />
<line x1="379.50" y1="332.58" x2="379.50" y2="342.89" stroke="#000" stroke-width="1" />
<line x1="377.00" y1="332.58" x2="382.00" y2="332.58" stroke="#000" stroke-width="1.3" />
<line x1="377.00" y1="342.89" x2="382.00" y2="342.89" stroke="#000" stroke-width="1.3" />
<line x1="405.50" y1="342.25" x2="405.50" y2="360.29" stroke="#000" stroke-width="1" />
<line x1="403.00" y1="342.25" x2="408.00" y2="342.25" stroke="#000" stroke-width="1.3" />
<line x1="403.00" y1="360.29" x2="408.00" y2="360.29" stroke="#000" stroke-width="1.3" />
<line x1="430.50" y1="328.07" x2="430.50" y2="349.98" stroke="#000" stroke-width="1" />
<line x1="428.00" y1="328.07" x2="433.00" y2="328.07" stroke="#000" stroke-width="1.3" />
<line x1="428.00" y1="349.98" x2="433.00" y2="349.98" stroke="#000" stroke-width="1.3" />
<line x1="456.50" y1="309.39" x2="456.50" y2="330.00" stroke="#000" stroke-width="1" />
<line x1="454.00" y1="309.39" x2="459.00" y2="309.39" stroke="#000" stroke-width="1.3" />
<line x1="454.00" y1="330.00" x2="459.00" y2="330.00" stroke="#000" stroke-width="1.3" />
<line x1="481.50" y1="297.66" x2="481.50" y2="323.17" stroke="#000" stroke-width="1" />
<line x1="479.00" y1="297.66" x2="484.00" y2="297.66" stroke="#000" stroke-width="1.3" />
<line x1="479.00" y1="323.17" x2="484.00" y2="323.17" stroke="#000" stroke-width="1.3" />
<line x1="507.50" y1="287.35" x2="507.50" y2="310.80" stroke="#000" stroke-width="1" />
<line x1="505.00" y1="287.35" x2="510.00" y2="287.35" stroke="#000" stroke-width="1.3" />
<line x1="505.00" y1="310.80" x2="510.00" y2="310.80" stroke="#000" stroke-width="1.3" />
<line x1="354.50" y1="290.70" x2="354.50" y2="304.88" stroke="#000" stroke-width="1" />
<line x1="352.00" y1="290.70" x2="357.00" y2="290.70" stroke="#000" stroke-width="1.3" />
<line x1="352.00" y1="304.88" x2="357.00" y2="304.88" stroke="#000" stroke-width="1.3" />
<line x1="379.50" y1="304.88" x2="379.50" y2="320.34" stroke="#000" stroke-width="1" />
<line x1="377.00" y1="304.88" x2="382.00" y2="304.88" stroke="#000" stroke-width="1.3" />
<line x1="377.00" y1="320.34" x2="382.00" y2="320.34" stroke="#000" stroke-width="1.3" />
<line x1="405.50" y1="292.51" x2="405.50" y2="308.74" stroke="#000" stroke-width="1" />
<line x1="403.00" y1="292.51" x2="408.00" y2="292.51" stroke="#000" stroke-width="1.3" />
<line x1="403.00" y1="308.74" x2="408.00" y2="308.74" stroke="#000" stroke-width="1.3" />
<line x1="430.50" y1="266.86" x2="430.50" y2="277.82" stroke="#000" stroke-width="1" />
<line x1="428.00" y1="266.86" x2="433.00" y2="266.86" stroke="#000" stroke-width="1.3" />
<line x1="428.00" y1="277.82" x2="433.00" y2="277.82" stroke="#000" stroke-width="1.3" />
<line x1="456.50" y1="259.78" x2="456.50" y2="264.93" stroke="#000" stroke-width="1" />
<line x1="454.00" y1="259.78" x2="459.00" y2="259.78" stroke="#000" stroke-width="1.3" />
<line x1="454.00" y1="264.93" x2="459.00" y2="264.93" stroke="#000" stroke-width="1.3" />
<line x1="481.50" y1="243.03" x2="481.50" y2="256.81" stroke="#000" stroke-width="1" />
<line x1="479.00" y1="243.03" x2="484.00" y2="243.03" stroke="#000" stroke-width="1.3" />
<line x1="479.00" y1="256.81" x2="484.00" y2="256.81" stroke="#000" stroke-width="1.3" />
<line x1="507.50" y1="249.21" x2="507.50" y2="264.16" stroke="#000" stroke-width="1" />
<line x1="505.00" y1="249.21" x2="510.00" y2="249.21" stroke="#000" stroke-width="1.3" />
<line x1="505.00" y1="264.16" x2="510.00" y2="264.16" stroke="#000" stroke-width="1.3" />
<line x1="354.50" y1="299.72" x2="354.50" y2="315.19" stroke="#000" stroke-width="1" />
<line x1="352.00" y1="299.72" x2="357.00" y2="299.72" stroke="#000" stroke-width="1.3" />
<line x1="352.00" y1="315.19" x2="357.00" y2="315.19" stroke="#000" stroke-width="1.3" />
<line x1="379.50" y1="328.07" x2="379.50" y2="339.67" stroke="#000" stroke-width="1" />
<line x1="377.00" y1="328.07" x2="382.00" y2="328.07" stroke="#000" stroke-width="1.3" />
<line x1="377.00" y1="339.67" x2="382.00" y2="339.67" stroke="#000" stroke-width="1.3" />
<line x1="405.50" y1="334.51" x2="405.50" y2="346.11" stroke="#000" stroke-width="1" />
<line x1="403.00" y1="334.51" x2="408.00" y2="334.51" stroke="#000" stroke-width="1.3" />
<line x1="403.00" y1="346.11" x2="408.00" y2="346.11" stroke="#000" stroke-width="1.3" />
<line x1="430.50" y1="317.76" x2="430.50" y2="339.67" stroke="#000" stroke-width="1" />
<line x1="428.00" y1="317.76" x2="433.00" y2="317.76" stroke="#000" stroke-width="1.3" />
<line x1="428.00" y1="339.67" x2="433.00" y2="339.67" stroke="#000" stroke-width="1.3" />
<line x1="456.50" y1="302.30" x2="456.50" y2="324.21" stroke="#000" stroke-width="1" />
<line x1="454.00" y1="302.30" x2="459.00" y2="302.30" stroke="#000" stroke-width="1.3" />
<line x1="454.00" y1="324.21" x2="459.00" y2="324.21" stroke="#000" stroke-width="1.3" />
<line x1="481.50" y1="275.24" x2="481.50" y2="304.88" stroke="#000" stroke-width="1" />
<line x1="479.00" y1="275.24" x2="484.00" y2="275.24" stroke="#000" stroke-width="1.3" />
<line x1="479.00" y1="304.88" x2="484.00" y2="304.88" stroke="#000" stroke-width="1.3" />
<line x1="507.50" y1="279.11" x2="507.50" y2="290.70" stroke="#000" stroke-width="1" />
<line x1="505.00" y1="279.11" x2="510.00" y2="279.11" stroke="#000" stroke-width="1.3" />
<line x1="505.00" y1="290.70" x2="510.00" y2="290.70" stroke="#000" stroke-width="1.3" />
<line x1="354.50" y1="313.90" x2="354.50" y2="331.94" stroke="#000" stroke-width="1" />
<line x1="352.00" y1="313.90" x2="357.00" y2="313.90" stroke="#000" stroke-width="1.3" />
<line x1="352.00" y1="331.94" x2="357.00" y2="331.94" stroke="#000" stroke-width="1.3" />
<line x1="379.50" y1="322.92" x2="379.50" y2="337.09" stroke="#000" stroke-width="1" />
<line x1="377.00" y1="322.92" x2="382.00" y2="322.92" stroke="#000" stroke-width="1.3" />
<line x1="377.00" y1="337.09" x2="382.00" y2="337.09" stroke="#000" stroke-width="1.3" />
<line x1="405.50" y1="309.26" x2="405.50" y2="329.88" stroke="#000" stroke-width="1" />
<line x1="403.00" y1="309.26" x2="408.00" y2="309.26" stroke="#000" stroke-width="1.3" />
<line x1="403.00" y1="329.88" x2="408.00" y2="329.88" stroke="#000" stroke-width="1.3" />
<line x1="430.50" y1="291.99" x2="430.50" y2="310.03" stroke="#000" stroke-width="1" />
<line x1="428.00" y1="291.99" x2="433.00" y2="291.99" stroke="#000" stroke-width="1.3" />
<line x1="428.00" y1="310.03" x2="433.00" y2="310.03" stroke="#000" stroke-width="1.3" />
<line x1="456.50" y1="263.64" x2="456.50" y2="282.97" stroke="#000" stroke-width="1" />
<line x1="454.00" y1="263.64" x2="459.00" y2="263.64" stroke="#000" stroke-width="1.3" />
<line x1="454.00" y1="282.97" x2="459.00" y2="282.97" stroke="#000" stroke-width="1.3" />
<line x1="481.50" y1="258.36" x2="481.50" y2="272.53" stroke="#000" stroke-width="1" />
<line x1="479.00" y1="258.36" x2="484.00" y2="258.36" stroke="#000" stroke-width="1.3" />
<line x1="479.00" y1="272.53" x2="484.00" y2="272.53" stroke="#000" stroke-width="1.3" />
<line x1="507.50" y1="267.51" x2="507.50" y2="276.53" stroke="#000" stroke-width="1" />
<line x1="505.00" y1="267.51" x2="510.00" y2="267.51" stroke="#000" stroke-width="1.3" />
<line x1="505.00" y1="276.53" x2="510.00" y2="276.53" stroke="#000" stroke-width="1.3" />
<polyline points="328.50,263.64 354.00,307.97 379.50,337.86 405.00,350.36 430.50,338.12 456.00,319.82 481.50,310.42 507.00,299.08" fill="none" stroke="#000" stroke-width="2.0" stroke-linejoin="round"/>
<polyline points="328.50,263.64 354.00,307.07 379.50,333.74 405.00,339.67 430.50,328.72 456.00,313.12 481.50,290.06 507.00,284.90" fill="none" stroke="#000" stroke-width="2.0" stroke-linejoin="round"/>
<polyline points="328.50,263.64 354.00,322.92 379.50,329.88 405.00,319.57 430.50,300.24 456.00,273.31 481.50,265.45 507.00,273.31" fill="none" stroke="#000" stroke-width="2.0" stroke-linejoin="round"/>
<polyline points="328.50,263.64 354.00,297.92 379.50,312.74 405.00,300.75 430.50,272.53 456.00,262.10 481.50,249.86 507.00,256.30" fill="none" stroke="#000" stroke-width="2.0" stroke-linejoin="round"/>
<rect x="326.00" y="261.14" width="5.00" height="5.00" fill="#fff" stroke="#000" stroke-width="1.1"/>
<rect x="351.50" y="305.47" width="5.00" height="5.00" fill="#fff" stroke="#000" stroke-width="1.1"/>
<rect x="377.00" y="335.36" width="5.00" height="5.00" fill="#fff" stroke="#000" stroke-width="1.1"/>
<rect x="402.50" y="347.86" width="5.00" height="5.00" fill="#fff" stroke="#000" stroke-width="1.1"/>
<rect x="428.00" y="335.62" width="5.00" height="5.00" fill="#fff" stroke="#000" stroke-width="1.1"/>
<rect x="453.50" y="317.32" width="5.00" height="5.00" fill="#fff" stroke="#000" stroke-width="1.1"/>
<rect x="479.00" y="307.92" width="5.00" height="5.00" fill="#fff" stroke="#000" stroke-width="1.1"/>
<rect x="504.50" y="296.58" width="5.00" height="5.00" fill="#fff" stroke="#000" stroke-width="1.1"/>
<circle cx="328.50" cy="263.64" r="2.50" fill="#fff" stroke="#000" stroke-width="1.1"/>
<circle cx="354.00" cy="307.07" r="2.50" fill="#fff" stroke="#000" stroke-width="1.1"/>
<circle cx="379.50" cy="333.74" r="2.50" fill="#fff" stroke="#000" stroke-width="1.1"/>
<circle cx="405.00" cy="339.67" r="2.50" fill="#fff" stroke="#000" stroke-width="1.1"/>
<circle cx="430.50" cy="328.72" r="2.50" fill="#fff" stroke="#000" stroke-width="1.1"/>
<circle cx="456.00" cy="313.12" r="2.50" fill="#fff" stroke="#000" stroke-width="1.1"/>
<circle cx="481.50" cy="290.06" r="2.50" fill="#fff" stroke="#000" stroke-width="1.1"/>
<circle cx="507.00" cy="284.90" r="2.50" fill="#fff" stroke="#000" stroke-width="1.1"/>
<circle cx="328.50" cy="263.64" r="3.00" fill="#000"/>
<circle cx="354.00" cy="322.92" r="3.00" fill="#000"/>
<circle cx="379.50" cy="329.88" r="3.00" fill="#000"/>
<circle cx="405.00" cy="319.57" r="3.00" fill="#000"/>
<circle cx="430.50" cy="300.24" r="3.00" fill="#000"/>
<circle cx="456.00" cy="273.31" r="3.00" fill="#000"/>
<circle cx="481.50" cy="265.45" r="3.00" fill="#000"/>
<circle cx="507.00" cy="273.31" r="3.00" fill="#000"/>
<rect x="325.50" y="260.64" width="6.00" height="6.00" fill="#000"/>
<rect x="351.00" y="294.92" width="6.00" height="6.00" fill="#000"/>
<rect x="376.50" y="309.74" width="6.00" height="6.00" fill="#000"/>
<rect x="402.00" y="297.75" width="6.00" height="6.00" fill="#000"/>
<rect x="427.50" y="269.53" width="6.00" height="6.00" fill="#000"/>
<rect x="453.00" y="259.10" width="6.00" height="6.00" fill="#000"/>
<rect x="478.50" y="246.86" width="6.00" height="6.00" fill="#000"/>
<rect x="504.00" y="253.30" width="6.00" height="6.00" fill="#000"/>
<polygon points="401.35,280.95 400.55,282.41 398.88,282.38 399.75,283.80 398.88,285.23 400.55,285.19 401.35,286.65 402.15,285.19 403.82,285.23 402.95,283.80 403.82,282.38 402.15,282.41" fill="#000"/>
<polygon points="407.85,280.95 407.05,282.41 405.38,282.38 406.25,283.80 405.38,285.23 407.05,285.19 407.85,286.65 408.65,285.19 410.32,285.23 409.45,283.80 410.32,282.38 408.65,282.41" fill="#000"/>
<polygon points="423.40,253.85 422.60,255.31 420.93,255.27 421.80,256.70 420.93,258.12 422.60,258.09 423.40,259.55 424.20,258.09 425.87,258.12 425.00,256.70 425.87,255.27 424.20,255.31" fill="#000"/>
<polygon points="429.90,253.85 429.10,255.31 427.43,255.27 428.30,256.70 427.43,258.12 429.10,258.09 429.90,259.55 430.70,258.09 432.37,258.12 431.50,256.70 432.37,255.27 430.70,255.31" fill="#000"/>
<polygon points="436.40,253.85 435.60,255.31 433.93,255.27 434.80,256.70 433.93,258.12 435.60,258.09 436.40,259.55 437.20,258.09 438.87,258.12 438.00,256.70 438.87,255.27 437.20,255.31" fill="#000"/>
<polygon points="449.00,244.45 448.20,245.91 446.53,245.88 447.40,247.30 446.53,248.73 448.20,248.69 449.00,250.15 449.80,248.69 451.47,248.73 450.60,247.30 451.47,245.88 449.80,245.91" fill="#000"/>
<polygon points="455.50,244.45 454.70,245.91 453.03,245.88 453.90,247.30 453.03,248.73 454.70,248.69 455.50,250.15 456.30,248.69 457.97,248.73 457.10,247.30 457.97,245.88 456.30,245.91" fill="#000"/>
<polygon points="462.00,244.45 461.20,245.91 459.53,245.88 460.40,247.30 459.53,248.73 461.20,248.69 462.00,250.15 462.80,248.69 464.47,248.73 463.60,247.30 464.47,245.88 462.80,245.91" fill="#000"/>
<polygon points="476.35,230.25 475.55,231.71 473.88,231.67 474.75,233.10 473.88,234.53 475.55,234.49 476.35,235.95 477.15,234.49 478.82,234.53 477.95,233.10 478.82,231.67 477.15,231.71" fill="#000"/>
<polygon points="482.85,230.25 482.05,231.71 480.38,231.67 481.25,233.10 480.38,234.53 482.05,234.49 482.85,235.95 483.65,234.49 485.32,234.53 484.45,233.10 485.32,231.67 483.65,231.71" fill="#000"/>
<polygon points="507.00,237.55 506.20,239.01 504.53,238.97 505.40,240.40 504.53,241.83 506.20,241.79 507.00,243.25 507.80,241.79 509.47,241.83 508.60,240.40 509.47,238.97 507.80,239.01" fill="#000"/>
<text x="455.80" y="287.70" font-size="9.9" text-anchor="middle" font-weight="normal" stroke="#000" stroke-width="0.4">§</text>
<line x1="458.10" y1="343.90" x2="478.90" y2="343.90" stroke="#000" stroke-width="2" />
<rect x="465.90" y="341.40" width="5.00" height="5.00" fill="#fff" stroke="#000" stroke-width="1.1"/>
<text x="481.90" y="347.20" font-size="10" text-anchor="start" font-weight="normal" textLength="28.00" lengthAdjust="spacingAndGlyphs" stroke="#000" stroke-width="0.4">wt veh</text>
<line x1="458.10" y1="358.00" x2="478.90" y2="358.00" stroke="#000" stroke-width="2" />
<rect x="465.40" y="355.00" width="6.00" height="6.00" fill="#000"/>
<text x="481.90" y="361.30" font-size="10" text-anchor="start" font-weight="normal" textLength="28.00" lengthAdjust="spacingAndGlyphs" stroke="#000" stroke-width="0.4">wt dex</text>
<line x1="458.10" y1="372.00" x2="478.90" y2="372.00" stroke="#000" stroke-width="2" />
<circle cx="468.40" cy="372.00" r="2.50" fill="#fff" stroke="#000" stroke-width="1.1"/>
<text x="481.90" y="375.30" font-size="10" text-anchor="start" font-weight="normal" textLength="28.00" lengthAdjust="spacingAndGlyphs" stroke="#000" stroke-width="0.4">ko veh</text>
<line x1="458.10" y1="385.90" x2="478.90" y2="385.90" stroke="#000" stroke-width="2" />
<circle cx="468.40" cy="385.90" r="3.00" fill="#000"/>
<text x="481.90" y="389.20" font-size="10" text-anchor="start" font-weight="normal" textLength="28.00" lengthAdjust="spacingAndGlyphs" stroke="#000" stroke-width="0.4">ko dex</text>
<text transform="translate(278.70,307.50) rotate(-90)" x="0" y="0" font-size="9.3" text-anchor="middle" font-weight="bold" textLength="145.00" lengthAdjust="spacingAndGlyphs" stroke="#000" stroke-width="0.25">Blood Glucose [relative to initial]</text>
</svg>
</body></html>
